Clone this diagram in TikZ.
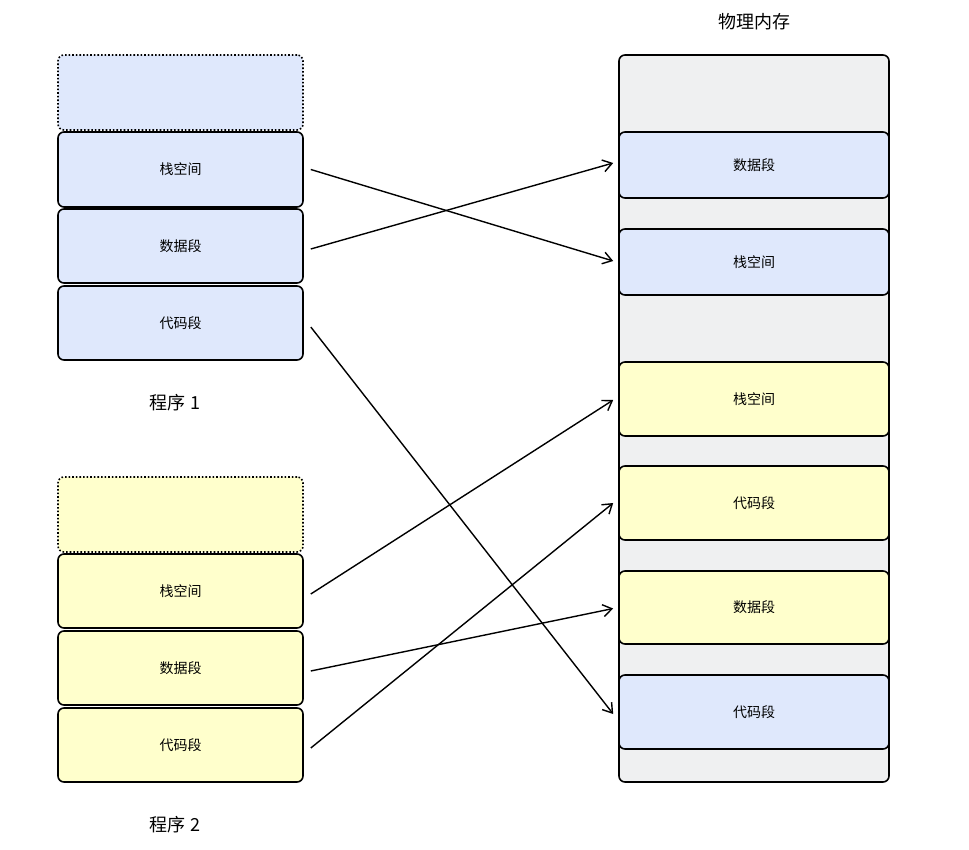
\documentclass[tikz,border=0pt]{standalone}
\usepackage{fontspec}
\setmainfont{Noto Sans CJK SC}
\usetikzlibrary{arrows.meta}
\definecolor{bl}{HTML}{DFE8FC}
\definecolor{yl}{HTML}{FFFFCC}
\definecolor{gr}{HTML}{EFF0F1}
\begin{document}
\begin{tikzpicture}[x=1pt,y=-1pt,
  seg/.style={draw=black,line width=1.6pt,rounded corners=6pt,minimum width=245pt,inner sep=0pt,font=\fontsize{14}{16}\selectfont},
  dot/.style={seg,dotted},
  lbl/.style={font=\fontsize{18}{20}\selectfont},
  arr/.style={line width=1.4pt,-{Straight Barb[length=9pt,width=12pt]}}]
\useasboundingbox (0,0) rectangle (969,850);
% left program 1
\node[dot,fill=bl,minimum height=75pt] (d1) at (180.5,92.5) {};
\node[seg,fill=bl,minimum height=75pt] (s1) at (180.5,169.5) {栈空间};
\node[seg,fill=bl,minimum height=74pt] (a1) at (180.5,246) {数据段};
\node[seg,fill=bl,minimum height=74pt] (c1) at (180.5,323) {代码段};
\node[lbl] (p1) at (175,403) {程序 1};
% left program 2
\node[dot,fill=yl,minimum height=75pt] (d2) at (180.5,514.5) {};
\node[seg,fill=yl,minimum height=74pt] (s2) at (180.5,591) {栈空间};
\node[seg,fill=yl,minimum height=74pt] (a2) at (180.5,668) {数据段};
\node[seg,fill=yl,minimum height=74pt] (c2) at (180.5,745) {代码段};
\node[lbl] (p2) at (175,825) {程序 2};
% memory
\node[seg,fill=gr,minimum width=270pt,minimum height=727pt] (mem) at (754,418.5) {};
\node[lbl] (ml) at (754,22) {物理内存};
\node[seg,fill=bl,minimum width=270pt,minimum height=66pt] (m1) at (754,165) {数据段};
\node[seg,fill=bl,minimum width=270pt,minimum height=66pt] (m2) at (754,262) {栈空间};
\node[seg,fill=yl,minimum width=270pt,minimum height=74pt] (m3) at (754,399) {栈空间};
\node[seg,fill=yl,minimum width=270pt,minimum height=74pt] (m4) at (754,503) {代码段};
\node[seg,fill=yl,minimum width=270pt,minimum height=73pt] (m5) at (754,607.5) {数据段};
\node[seg,fill=bl,minimum width=270pt,minimum height=74pt] (m6) at (754,712) {代码段};
% arrows
\draw[arr] ([xshift=7pt,yshift=0pt]s1.east) -- ([xshift=-5pt,yshift=1pt]m2.west);
\draw[arr] ([xshift=7pt,yshift=-3pt]a1.east) -- ([xshift=-5pt,yshift=2pt]m1.west);
\draw[arr] ([xshift=7pt,yshift=-4pt]c1.east) -- ([xshift=-5pt,yshift=-2pt]m6.west);
\draw[arr] ([xshift=7pt,yshift=-3pt]s2.east) -- ([xshift=-5pt,yshift=-1pt]m3.west);
\draw[arr] ([xshift=7pt,yshift=-3pt]a2.east) -- ([xshift=-5pt,yshift=-1pt]m5.west);
\draw[arr] ([xshift=7pt,yshift=-3pt]c2.east) -- ([xshift=-5pt,yshift=0pt]m4.west);
\end{tikzpicture}
\end{document}
